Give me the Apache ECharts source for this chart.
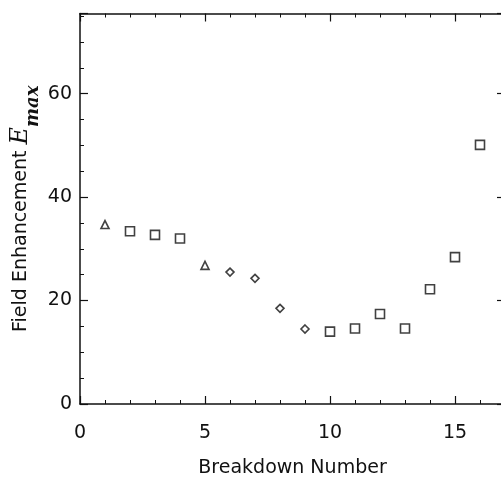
<!DOCTYPE html>
<html>
<head>
<meta charset="utf-8">
<script src="https://cdn.jsdelivr.net/npm/echarts@6/dist/echarts.min.js"></script>
<style>
  html, body { margin: 0; padding: 0; background: #fff; }
  #chart { width: 501px; height: 477px; }
</style>
</head>
<body>
<div id="chart"></div>
<script>
// breakdown number vs field enhancement, grouped by marker shape
const triangleX = [1, 5];
const triangleY = [34.7, 26.8];

const diamondX = [6, 7, 8, 9];
const diamondY = [25.5, 24.3, 18.5, 14.5];

const squareX = [2, 3, 4, 10, 11, 12, 13, 14, 15, 16];
const squareY = [33.4, 32.7, 32.0, 14.0, 14.6, 17.4, 14.6, 22.2, 28.4, 50.1];

const xTicks = [0, 5, 10, 15];
const yTicks = [0, 20, 40, 60];

const pairs = (xs, ys) => xs.map((x, i) => [x, ys[i]]);

const font = 'DejaVu Sans';
const ink = '#111';

// shared look for the four box sides
const lineStyle = { color: ink, width: 1.5 };
const tick = { show: true, inside: true, length: 8, lineStyle: { color: ink, width: 1.2 } };
const minor = { show: true, length: 4, lineStyle: { color: ink, width: 1 } };

const chart = echarts.init(document.getElementById('chart'));

const markerStyle = {
  color: '#fff',
  borderColor: ink,
  borderWidth: 1.6
};

chart.setOption({
  animation: false,
  backgroundColor: '#fff',
  grid: {
    left: 80,
    width: 425,   // right edge sits just past the window, like the scan
    top: 13.5,
    height: 390.5,
    outerBoundsMode: 'none'
  },
  xAxis: [
    {
      type: 'value',
      min: 0,
      max: 17,
      interval: 5,
      name: 'Breakdown Number',
      nameLocation: 'middle',
      nameGap: 55,
      nameTextStyle: { fontFamily: font, fontSize: 19, color: ink },
      axisLine: { show: true, onZero: false, lineStyle: lineStyle },
      axisTick: tick,
      minorTick: Object.assign({ splitNumber: 5 }, minor),
      splitLine: { show: false },
      axisLabel: {
        margin: 20,
        fontFamily: font,
        fontSize: 19,
        color: ink,
        showMaxLabel: false,
        formatter: v => (xTicks.includes(v) ? String(v) : '')
      }
    },
    {
      type: 'value',
      position: 'top',
      min: 0,
      max: 17,
      interval: 5,
      axisLine: { show: true, onZero: false, lineStyle: lineStyle },
      axisTick: tick,
      minorTick: Object.assign({ splitNumber: 5 }, minor),
      splitLine: { show: false },
      axisLabel: { show: false }
    }
  ],
  yAxis: [
    {
      type: 'value',
      min: 0,
      max: 75.5,
      interval: 20,
      name: 'Field Enhancement {e|E}{s|max}',
      nameLocation: 'middle',
      nameRotate: 90,
      nameGap: 38,
      nameMoveOverlap: false,
      nameTextStyle: {
        fontFamily: font,
        fontSize: 19,
        color: ink,
        rich: {
          e: {
            fontFamily: 'DejaVu Serif',
            fontStyle: 'italic',
            fontSize: 24,
            lineHeight: 42,
            color: ink
          },
          // subscript: sits at the bottom of the tall line
          s: {
            fontFamily: 'DejaVu Serif',
            fontStyle: 'italic',
            fontWeight: 'bold',
            fontSize: 18,
            color: ink,
            verticalAlign: 'bottom'
          }
        }
      },
      axisLine: { show: true, onZero: false, lineStyle: lineStyle },
      axisTick: tick,
      minorTick: Object.assign({ splitNumber: 4 }, minor),
      splitLine: { show: false },
      axisLabel: {
        margin: 8,
        fontFamily: font,
        fontSize: 19,
        color: ink,
        showMaxLabel: false,
        formatter: v => (yTicks.includes(v) ? String(v) : '')
      }
    },
    {
      type: 'value',
      position: 'right',
      min: 0,
      max: 75.5,
      interval: 20,
      axisLine: { show: true, onZero: false, lineStyle: lineStyle },
      axisTick: tick,
      minorTick: Object.assign({ splitNumber: 4 }, minor),
      splitLine: { show: false },
      axisLabel: { show: false }
    }
  ],
  series: [
    {
      name: 'triangle',
      type: 'scatter',
      symbol: 'triangle',
      symbolSize: 8,
      itemStyle: markerStyle,
      data: pairs(triangleX, triangleY)
    },
    {
      name: 'diamond',
      type: 'scatter',
      symbol: 'diamond',
      symbolSize: 8,
      itemStyle: markerStyle,
      data: pairs(diamondX, diamondY)
    },
    {
      name: 'square',
      type: 'scatter',
      symbol: 'rect',
      symbolSize: 9,
      itemStyle: markerStyle,
      data: pairs(squareX, squareY)
    }
  ]
});
</script>
</body>
</html>
